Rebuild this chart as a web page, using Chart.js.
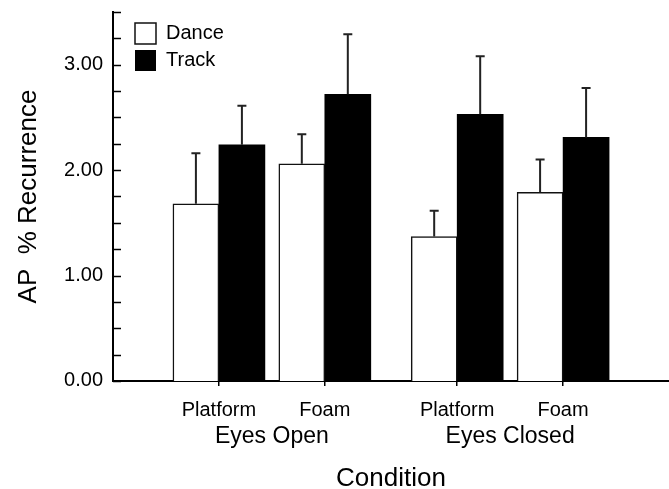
<!DOCTYPE html>
<html>
<head>
<meta charset="utf-8">
<script src="https://cdn.jsdelivr.net/npm/chart.js@4/dist/chart.umd.min.js"></script>
<style>
html,body{margin:0;padding:0;background:#fff;}
#wrap{width:669px;height:489px;position:relative;}
</style>
</head>
<body>
<div id="wrap"><canvas id="c" width="669" height="489"></canvas></div>
<script>
// ---- data ----
const surfaces = ["Platform", "Foam", "Platform", "Foam"];
const conditions = ["Eyes Open", "Eyes Closed"];
const seriesNames = ["Dance", "Track"];
const danceMeans = [1.68, 2.06, 1.37, 1.79];
const danceErrors = [0.48, 0.28, 0.245, 0.31];
const trackMeans = [2.24, 2.72, 2.53, 2.31];
const trackErrors = [0.37, 0.57, 0.55, 0.47];
const yTicksMajor = ["0.00", "1.00", "2.00", "3.00"];

// ---- layout helpers (positions on a linear axis: pairs of surfaces grouped by condition) ----
const slotStep = 4, conditionGap = 1, leftSlots = 4, rightSlots = 4;
const groupPos = surfaces.map((s, i) => leftSlots + i * slotStep + Math.floor(i / 2) * conditionGap);
const xMax = groupPos[groupPos.length - 1] + rightSlots;
const condPos = conditions.map((c, k) => (groupPos[2 * k] + groupPos[2 * k + 1]) / 2);

Chart.defaults.font.family = "'Liberation Sans', Arial, Helvetica, sans-serif";
Chart.defaults.color = "#000";

const errorBars = {
  id: "errorBars",
  afterDatasetsDraw(chart) {
    const ctx = chart.ctx;
    const y = chart.scales.y;
    chart.data.datasets.forEach((ds, di) => {
      const meta = chart.getDatasetMeta(di);
      meta.data.forEach((bar, j) => {
        const v = ds.data[j].y, e = ds.errors[j];
        const yTop = y.getPixelForValue(v + e);
        ctx.save();
        ctx.strokeStyle = "#222";
        ctx.lineWidth = 2;
        ctx.beginPath();
        ctx.moveTo(bar.x, bar.y);
        ctx.lineTo(bar.x, yTop);
        ctx.moveTo(bar.x - 4.5, yTop);
        ctx.lineTo(bar.x + 4.5, yTop);
        ctx.stroke();
        ctx.restore();
      });
    });
  }
};

const innerTicks = {
  id: "innerTicks",
  afterDraw(chart) {
    const ctx = chart.ctx;
    const y = chart.scales.y;
    const x0 = chart.chartArea.left;
    ctx.save();
    ctx.strokeStyle = "#000";
    ctx.lineWidth = 1.5;
    y.ticks.forEach(t => {
      const py = Math.round(y.getPixelForValue(t.value)) + 0.5;
      ctx.beginPath();
      ctx.moveTo(x0, py);
      ctx.lineTo(x0 + 8, py);
      ctx.stroke();
    });
    ctx.restore();
  }
};

// place the legend in the upper-left corner inside the plot
const legendPlacer = {
  id: "legendPlacer",
  beforeDraw(chart) {
    const lg = chart.legend;
    if (!lg) return;
    lg.left = chart.chartArea.left + 16;
    lg.top = 17;
  }
};

new Chart(document.getElementById("c"), {
  type: "bar",
  data: {
    datasets: [
      {
        label: seriesNames[0],
        data: groupPos.map((p, i) => ({ x: p, y: danceMeans[i] })),
        errors: danceErrors,
        backgroundColor: "#fff",
        borderColor: "#111",
        borderWidth: 1.5,
        barThickness: 46
      },
      {
        label: seriesNames[1],
        data: groupPos.map((p, i) => ({ x: p, y: trackMeans[i] })),
        errors: trackErrors,
        backgroundColor: "#000",
        borderColor: "#000",
        borderWidth: 0,
        barThickness: 46
      }
    ]
  },
  options: {
    responsive: false,
    animation: false,
    events: [],
    layout: { padding: { top: 12, left: 0, right: 0, bottom: 0 } },
    plugins: {
      legend: {
        position: "chartArea",
        align: "start",
        labels: {
          boxWidth: 21,
          boxHeight: 21,
          padding: 6,
          font: { size: 20 },
          color: "#000"
        }
      },
      tooltip: { enabled: false }
    },
    scales: {
      x: {
        type: "linear",
        position: "bottom",
        offset: false,
        min: 0,
        max: xMax,
        afterBuildTicks(s) { s.ticks = groupPos.map(v => ({ value: v })); },
        ticks: {
          autoSkip: false,
          maxRotation: 0,
          padding: 12.5,
          font: { size: 20 },
          callback(v) { const i = groupPos.indexOf(v); return i >= 0 ? surfaces[i] : ""; }
        },
        grid: { offset: false, drawOnChartArea: false, drawTicks: true, tickLength: 5, color: "#000", lineWidth: 1.5 },
        border: { display: true, color: "#000", width: 2 }
      },
      x2: {
        type: "linear",
        position: "bottom",
        offset: false,
        min: 0,
        max: xMax,
        afterBuildTicks(s) { s.ticks = condPos.map(v => ({ value: v })); },
        ticks: {
          autoSkip: false,
          maxRotation: 0,
          mirror: true,
          padding: -3,
          font: { size: 23, lineHeight: 0.13 },
          callback(v) { const i = condPos.indexOf(v); return i >= 0 ? conditions[i] : ""; }
        },
        grid: { display: false, drawTicks: false, offset: false },
        border: { display: false },
        title: { display: true, text: "Condition", font: { size: 26, lineHeight: 0.77 }, padding: { top: 40, bottom: 0 } }
      },
      y: {
        min: 0,
        max: 3.5,
        afterFit(s) { s.width = 113; },
        ticks: {
          stepSize: 0.25,
          autoSkip: false,
          padding: 10,
          font: { size: 20, lineHeight: 0.2 },
          callback(v) { return Number.isInteger(v) ? yTicksMajor[v] : ""; }
        },
        grid: { display: false, drawTicks: false },
        border: { display: true, color: "#000", width: 2 },
        title: { display: true, text: "AP  % Recurrence", font: { size: 26 }, padding: { top: 13, bottom: 0 } }
      }
    }
  },
  plugins: [errorBars, innerTicks, legendPlacer]
});
</script>
</body>
</html>
